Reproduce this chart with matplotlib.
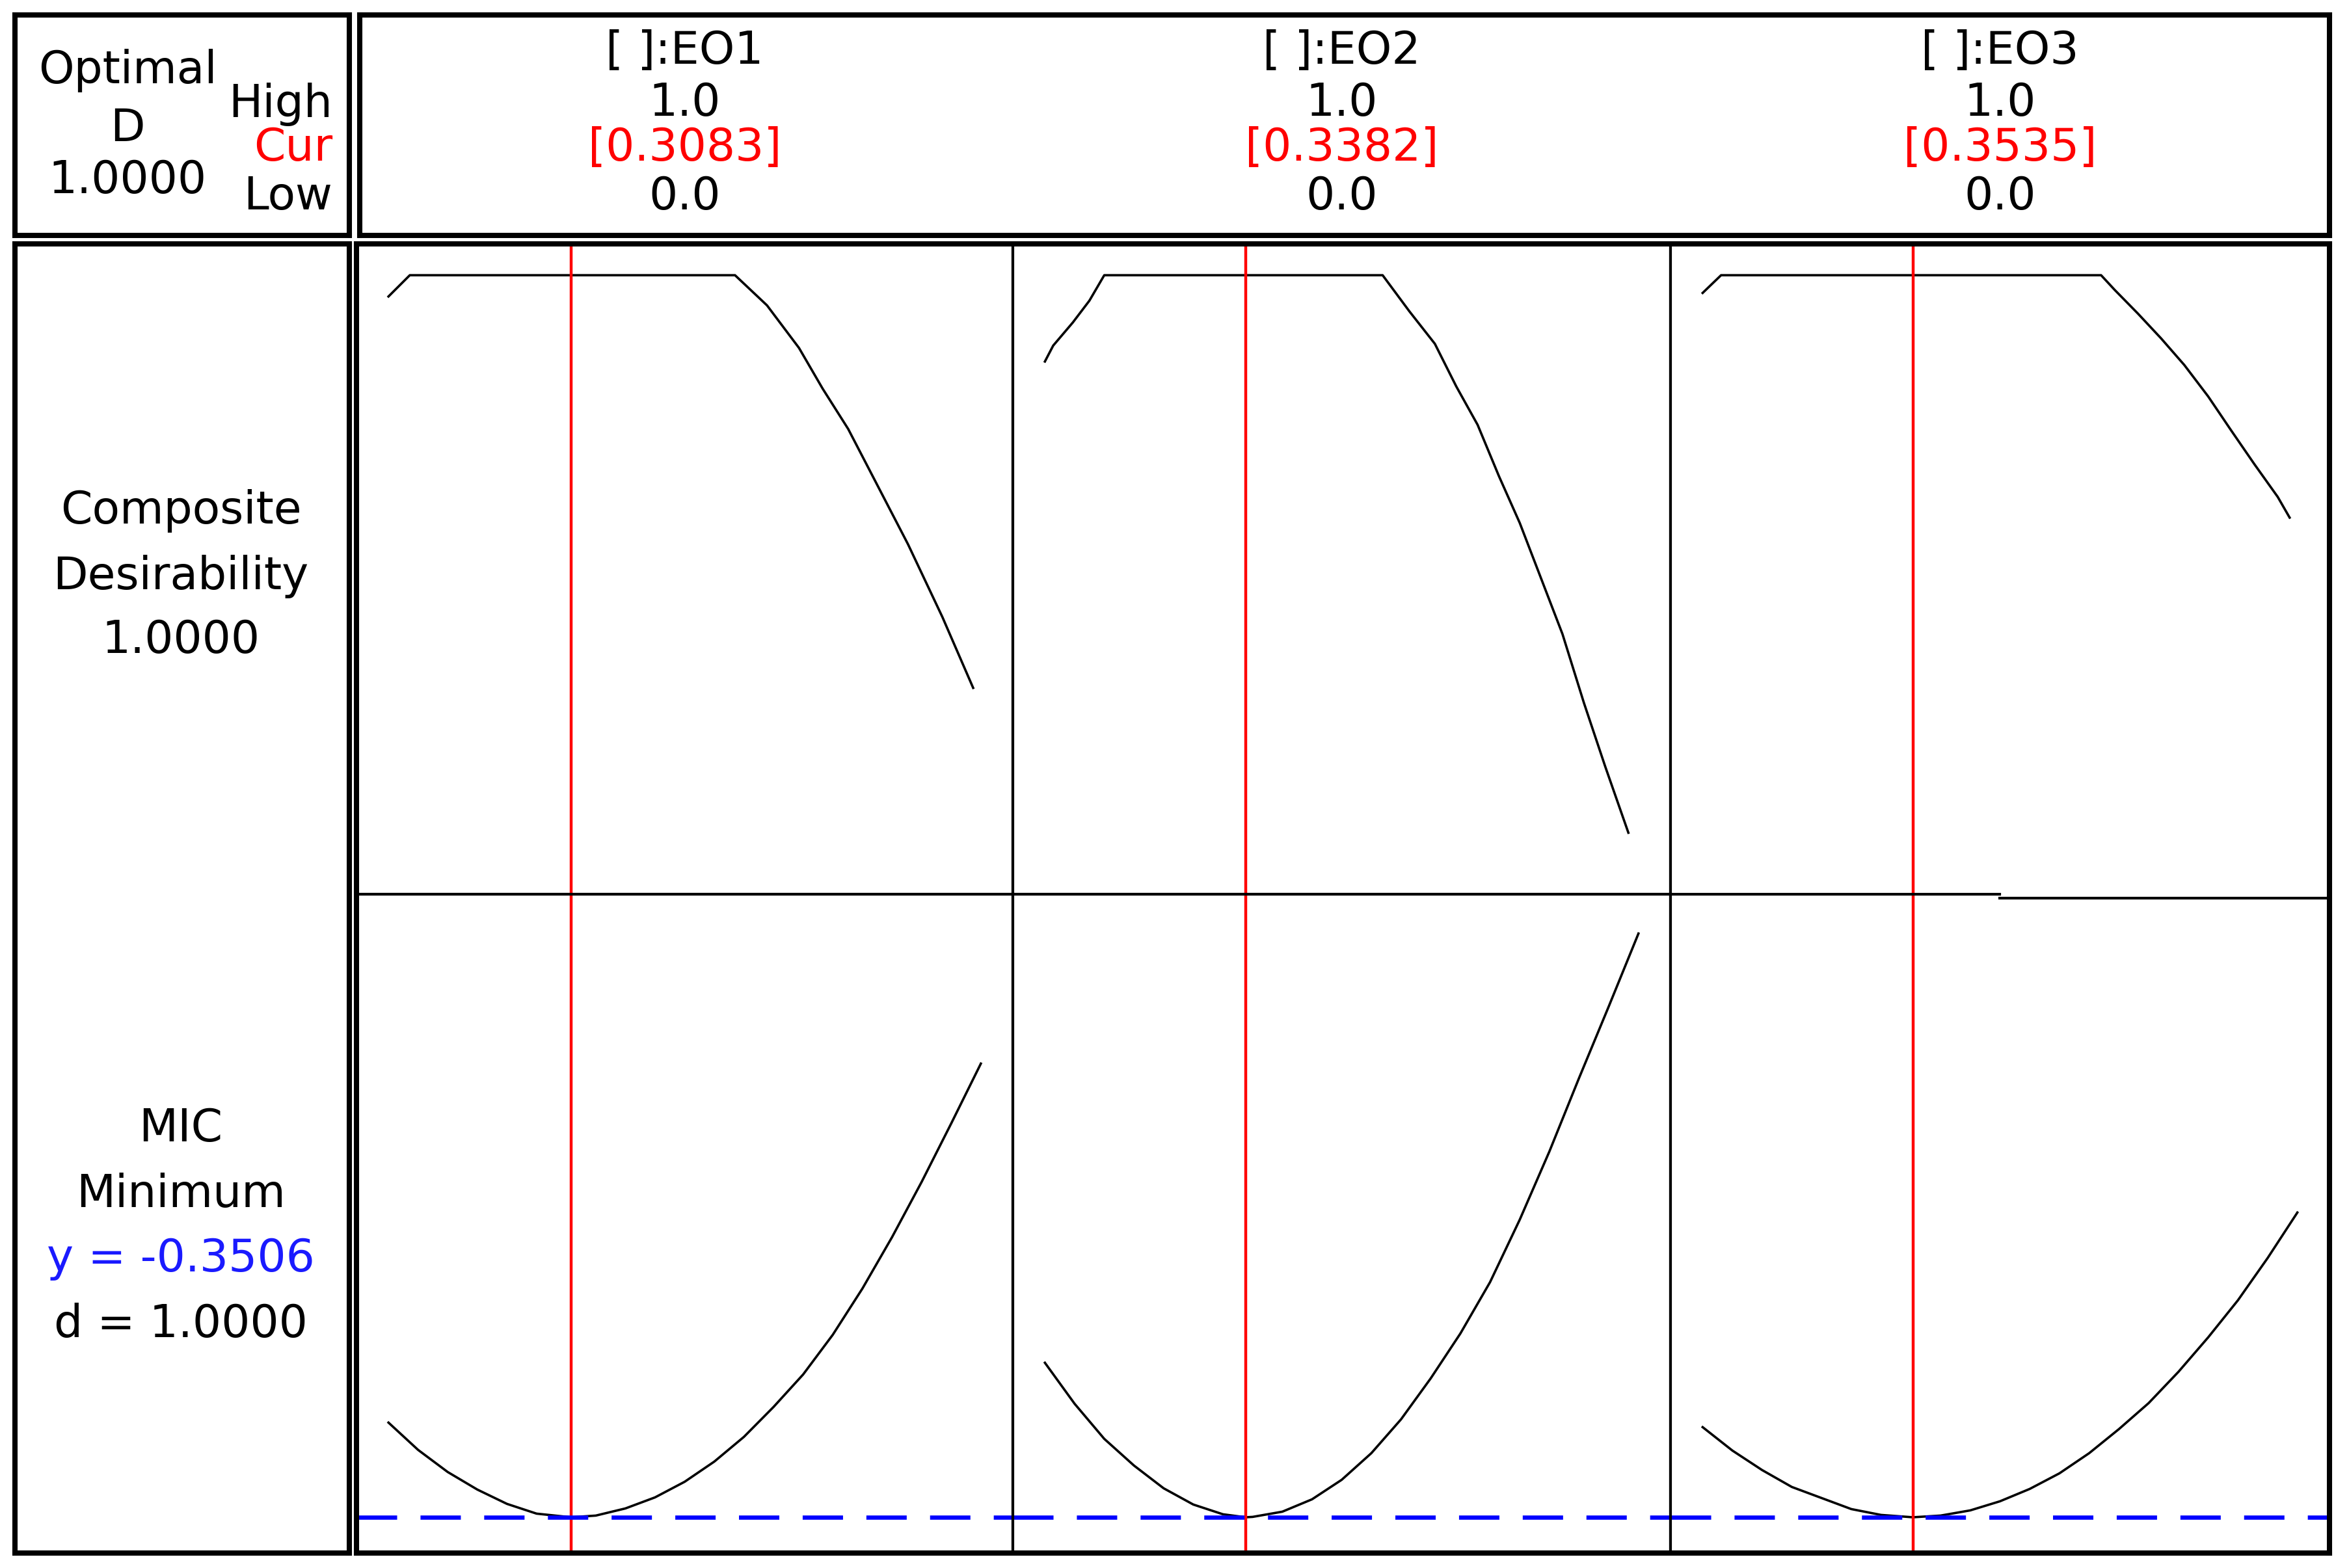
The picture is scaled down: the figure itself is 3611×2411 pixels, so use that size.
import numpy as np
import matplotlib
matplotlib.use("Agg")
import matplotlib.pyplot as plt
from matplotlib.lines import Line2D

plt.rcParams['font.family'] = ['DejaVu Sans']

W, H = 3611, 2411

# factors and optimum settings
factors = ['[ ]:EO1', '[ ]:EO2', '[ ]:EO3']
high = ['1.0', '1.0', '1.0']
low = ['0.0', '0.0', '0.0']
cur = [0.3083, 0.3382, 0.3535]
cur_labels = ['[0.3083]', '[0.3382]', '[0.3535]']

# MIC response (minimum y = -0.3506)
y_min = -0.3506
mic_x_eo1 = [0, 0.05, 0.1, 0.15, 0.2, 0.25, 0.3083, 0.35, 0.4, 0.45, 0.5, 0.55, 0.6,
             0.65, 0.7, 0.75, 0.8, 0.85, 0.9, 0.95, 1.0]
mic_y_eo1 = [-0.205, -0.247, -0.281, -0.308, -0.330, -0.345, -0.3506, -0.348, -0.337,
             -0.320, -0.296, -0.265, -0.227, -0.181, -0.131, -0.070, 0.001, 0.080,
             0.165, 0.255, 0.347]
mic_x_eo2 = [0, 0.05, 0.1, 0.15, 0.2, 0.25, 0.3, 0.3382, 0.35, 0.4, 0.45, 0.5, 0.55,
             0.6, 0.65, 0.7, 0.75, 0.8, 0.85, 0.9, 0.95, 1.0]
mic_y_eo2 = [-0.113, -0.176, -0.230, -0.271, -0.306, -0.331, -0.346, -0.3506, -0.350,
             -0.342, -0.323, -0.293, -0.252, -0.200, -0.137, -0.068, 0.011, 0.107,
             0.212, 0.325, 0.435, 0.547]
mic_x_eo3 = [0, 0.05, 0.1, 0.15, 0.2, 0.25, 0.3, 0.3535, 0.4, 0.45, 0.5, 0.55, 0.6,
             0.65, 0.7, 0.75, 0.8, 0.85, 0.9, 0.95, 1.0]
mic_y_eo3 = [-0.212, -0.248, -0.278, -0.304, -0.321, -0.338, -0.347, -0.3506, -0.348,
             -0.340, -0.326, -0.307, -0.283, -0.252, -0.215, -0.175, -0.127, -0.074,
             -0.017, 0.048, 0.118]

# composite desirability
d_x_eo1 = [0, 0.036, 0.585, 0.639, 0.693, 0.733, 0.776, 0.819, 0.877, 0.935, 0.987]
d_y_eo1 = [0.964, 1, 1, 0.949, 0.877, 0.808, 0.740, 0.657, 0.545, 0.422, 0.302]
d_x_eo2 = [0, 0.014, 0.047, 0.075, 0.1, 0.569, 0.614, 0.657, 0.693, 0.729, 0.765, 0.800,
           0.836, 0.872, 0.908, 0.944, 0.983]
d_y_eo2 = [0.854, 0.881, 0.920, 0.957, 1, 1, 0.939, 0.884, 0.812, 0.747, 0.660, 0.581,
           0.487, 0.393, 0.277, 0.169, 0.057]
d_x_eo3 = [0, 0.031, 0.670, 0.693, 0.732, 0.771, 0.810, 0.850, 0.889, 0.928, 0.967, 0.987]
d_y_eo3 = [0.970, 1, 1, 0.975, 0.935, 0.893, 0.848, 0.795, 0.737, 0.680, 0.625, 0.590]

mic_x = [mic_x_eo1, mic_x_eo2, mic_x_eo3]
mic_y = [mic_y_eo1, mic_y_eo2, mic_y_eo3]
d_x = [d_x_eo1, d_x_eo2, d_x_eo3]
d_y = [d_y_eo1, d_y_eo2, d_y_eo3]

FS = 50
BOX_LW = 5.8


def rect(x0, y0, x1, y1):
    return [x0 / W, 1 - y1 / H, (x1 - x0) / W, (y1 - y0) / H]


def txt(x, y, s, ha='center', color='black'):
    fig.text(x / W, 1 - y / H, s, ha=ha, va='baseline', fontsize=FS, color=color)


def box(x0, y0, x1, y1, lw=BOX_LW):
    ax = fig.add_axes(rect(x0, y0, x1, y1))
    ax.set_xticks([])
    ax.set_yticks([])
    ax.patch.set_alpha(0)
    for s in ax.spines.values():
        s.set_linewidth(lw)
    return ax


def hline(x0, x1, y, lw=3):
    fig.add_artist(Line2D([x0 / W, x1 / W], [1 - y / H, 1 - y / H],
                          color='black', lw=lw, zorder=5))


fig = plt.figure(figsize=(W / 100, H / 100), dpi=100)

# boxes
box(23, 23, 537, 362)
box(553, 23, 3581, 362)
box(23, 375, 537, 2388)

# top-left box text
txt(196, 128, 'Optimal')
txt(196, 217, 'D')
txt(196, 297, '1.0000')
txt(511, 180, 'High', ha='right')
txt(511, 247, 'Cur', ha='right', color='#ff0000')
txt(511, 322, 'Low', ha='right')

# left label panel
txt(278, 805, 'Composite')
txt(278, 906, 'Desirability')
txt(278, 1004, '1.0000')
txt(278, 1755, 'MIC')
txt(278, 1856, 'Minimum')
txt(278, 1955, 'y = -0.3506', color='#1a1aff')
txt(278, 2056, 'd = 1.0000')

# panels
col_x = [548, 1557, 2568, 3581]
row_y = [375, 1375, 2388]
xlim = (-0.054, 1.054)
d_lim = (-0.047, 1.053)
mic_lim = (y_min - 0.055, y_min + 0.958)

for i in range(3):
    cx = (col_x[i] + col_x[i + 1]) / 2
    txt(cx, 98, factors[i])
    txt(cx, 178, high[i])
    txt(cx, 247, cur_labels[i], color='#ff0000')
    txt(cx, 322, low[i])

    ax1 = fig.add_axes(rect(col_x[i], row_y[0], col_x[i + 1], row_y[1]))
    ax1.plot(d_x[i], d_y[i], color='black', lw=2.6)
    ax1.axvline(cur[i], color='#ff0000', lw=3.2)
    ax1.set_xlim(*xlim)
    ax1.set_ylim(*d_lim)

    ax2 = fig.add_axes(rect(col_x[i], row_y[1], col_x[i + 1], row_y[2]))
    ax2.plot(mic_x[i], mic_y[i], color='black', lw=2.6)
    ax2.axvline(cur[i], color='#ff0000', lw=3.2)
    ax2.axhline(y_min, color='#0000ff', lw=4.7, dashes=(9.5, 5.5))
    ax2.set_xlim(*xlim)
    ax2.set_ylim(*mic_lim)

    for ax in (ax1, ax2):
        ax.set_xticks([])
        ax.set_yticks([])
        for s in ax.spines.values():
            s.set_linewidth(3)
    if i == 2:
        # the row divider steps down a little in the last column
        ax1.spines['bottom'].set_visible(False)
        ax2.spines['top'].set_visible(False)
        hline(col_x[2], 3074, row_y[1])
        hline(3074, col_x[3], row_y[1] + 6)

# thick outer frame of the plot area
box(548, 375, 3581, 2388)

fig.savefig('out.png', dpi=100, facecolor='white')
